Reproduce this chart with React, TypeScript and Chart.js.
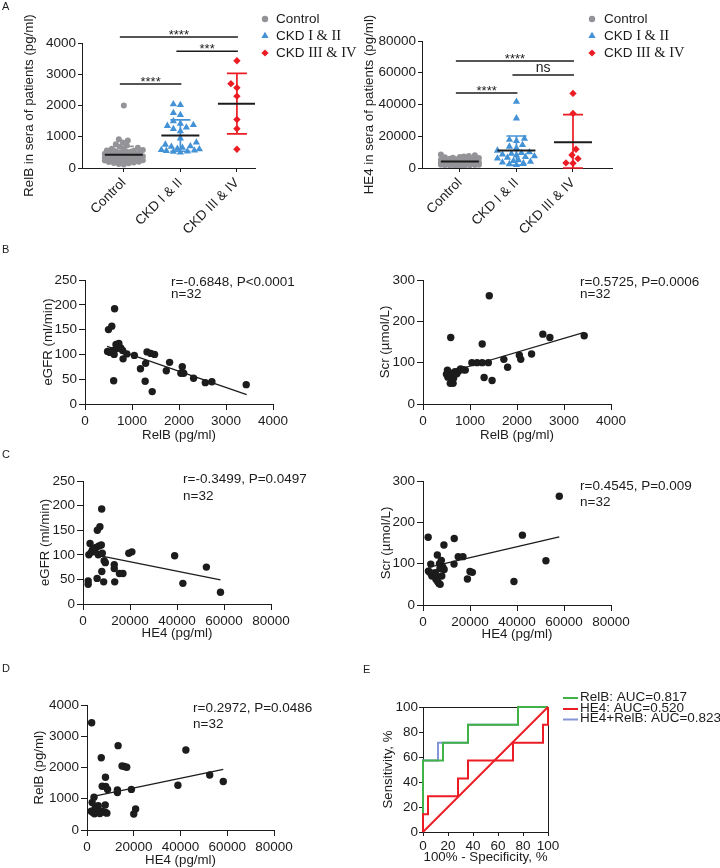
import React, { useEffect, useRef } from 'react';
import { Chart, registerables } from 'chart.js';

Chart.register(...registerables);

const SANS = '"Liberation Sans", Arial, Helvetica, sans-serif';
const SERIF = '"Liberation Serif", "Times New Roman", serif';
const INK = '#1c1c1c';
const GREY = 'rgb(148,148,152)';
const BLUE = 'rgb(68,146,214)';
const RED = 'rgb(236,28,36)';
const GREEN = 'rgb(64,178,72)';
const LAVENDER = 'rgb(132,150,214)';
const TICK_SIZE = 13.5;
const TITLE_SIZE = 13.3;

Chart.defaults.font.family = SANS;
Chart.defaults.color = INK;

// ---------------- Panel A ----------------
const groupLabels = ['Control', 'CKD I & II', 'CKD III & IV'];

const relbControl = [2000, 920, 880, 820, 760, 720, 680, 650, 620, 600, 580, 560, 550, 540, 520, 510, 500, 490, 480, 470, 460, 450, 440, 430, 420, 410, 400, 400, 390, 380, 380, 370, 360, 360, 350, 350, 340, 340, 330, 330, 320, 320, 310, 310, 300, 300, 300, 290, 290, 280, 280, 270, 260, 250, 240, 230, 220, 210, 200, 190, 180, 160, 150, 130, 110];
const relbCkd12 = [2040, 2020, 1760, 1700, 1500, 1420, 1380, 1350, 1300, 1250, 1180, 950, 820, 750, 700, 680, 650, 620, 600, 580, 560, 550, 530, 520, 500];
const relbCkd34 = [3430, 2700, 2570, 2300, 1550, 1260, 600];

const he4Control = [8500, 8000, 7600, 7200, 7000, 6800, 6500, 6300, 6000, 5800, 5600, 5500, 5300, 5200, 5000, 4900, 4800, 4700, 4600, 4500, 4400, 4300, 4200, 4100, 4000, 4000, 3900, 3800, 3700, 3600, 3500, 3500, 3400, 3300, 3200, 3100, 3000, 3000, 2900, 2800, 2700, 2600, 2500, 2400, 2300, 2200, 2100, 2000, 1900, 1800, 1700, 1600, 1500, 1400, 1300];
const he4Ckd12 = [41800, 31300, 18500, 17800, 17000, 14500, 13500, 12500, 11000, 10000, 9500, 9000, 8500, 8000, 7500, 7000, 6500, 6000, 5000, 4500, 4000, 3500, 3000, 2500, 2000];
const he4Ckd34 = [47000, 34400, 11800, 8200, 5900, 3200, 3000];

const relbSigFrom = [1, 2, 1];
const relbSigTo = [3, 3, 2];
const relbSigValue = [4190, 3740, 2690];
const relbSigText = ['****', '***', '****'];

const he4SigFrom = [1, 2, 1];
const he4SigTo = [3, 3, 2];
const he4SigValue = [67400, 58600, 47200];
const he4SigText = ['****', 'ns', '****'];

// ---------------- Panel B ----------------
const bRelbForEgfr = [480, 530, 600, 620, 660, 680, 720, 760, 800, 810, 890, 610, 1050, 1180, 1280, 1290, 1320, 1400, 1430, 1480, 1730, 1800, 2040, 2070, 2100, 2310, 2560, 2700, 3430, 500, 570, 630];
const bEgfr = [106, 104, 108, 100, 120, 112, 122, 113, 108, 91, 101, 47, 98, 71, 46, 82, 105, 102, 25, 100, 67, 84, 62, 75, 62, 52, 43, 45, 39, 150, 157, 192];
const bFitEgfrX = [470, 3440];
const bFitEgfrY = [116, 19];

const bRelbForScr = [1410, 590, 2550, 2700, 3430, 1260, 2310, 2050, 2080, 1720, 1800, 1040, 1150, 1260, 1390, 1300, 1470, 500, 520, 530, 560, 580, 600, 610, 640, 650, 680, 720, 760, 800, 860, 900];
const bScr = [262, 161, 169, 161, 165, 145, 121, 118, 108, 108, 89, 100, 100, 100, 100, 64, 57, 72, 82, 65, 76, 50, 68, 55, 50, 62, 78, 73, 80, 85, 83, 82];
const bFitScrX = [500, 3430];
const bFitScrY = [75, 173];

// ---------------- Panel C ----------------
const cHe4ForEgfr = [7950, 7200, 6100, 3000, 4000, 5500, 6800, 7800, 2500, 3500, 5000, 6500, 8200, 9000, 9500, 13300, 13300, 15500, 17000, 8000, 6000, 8800, 13500, 2200, 2200, 19500, 20800, 39000, 42500, 52500, 58500, 4500];
const cEgfr = [193, 157, 150, 123, 110, 115, 118, 120, 100, 105, 108, 100, 103, 88, 84, 80, 72, 62, 62, 66, 52, 45, 45, 47, 40, 103, 106, 98, 42, 75, 24, 112];
const cFitEgfrX = [2200, 58500];
const cFitEgfrY = [103, 49];

const cHe4ForScr = [58000, 2200, 13300, 42300, 8900, 6100, 15000, 17000, 3300, 13200, 7000, 7800, 8400, 7200, 20000, 21000, 18900, 38700, 52300, 2300, 3500, 4500, 3800, 5500, 6200, 6800, 7300, 6000, 8000, 5200, 9000, 2800];
const cScr = [263, 164, 161, 169, 145, 121, 117, 117, 99, 99, 100, 108, 92, 88, 81, 79, 63, 57, 107, 82, 75, 73, 70, 62, 57, 52, 50, 68, 70, 78, 86, 80];
const cFitScrX = [2200, 58000];
const cFitScrY = [91, 165];

// ---------------- Panel D ----------------
const dHe4 = [2000, 13300, 42300, 6100, 15000, 16000, 17000, 7900, 52500, 58300, 38900, 6500, 8000, 8800, 13000, 13000, 19000, 3000, 2200, 20000, 20800, 1800, 2500, 3200, 4000, 4800, 5500, 6500, 7800, 7900, 3500, 8500];
const dRelb = [3430, 2700, 2560, 2310, 2050, 2030, 2010, 1690, 1760, 1550, 1430, 1400, 1390, 1300, 1280, 1200, 1300, 1050, 880, 510, 670, 600, 560, 520, 600, 780, 530, 600, 800, 560, 700, 540];
const dFitX = [2200, 58300];
const dFitY = [1065, 1940];

// ---------------- Panel E (ROC) ----------------
const rocRelbX = [0, 0, 16, 16, 36, 36, 76, 76, 100];
const rocRelbY = [0, 57.14, 57.14, 71.43, 71.43, 85.71, 85.71, 100, 100];
const rocHe4X = [0, 0, 4, 4, 28, 28, 36, 36, 72, 72, 96, 96, 100, 100];
const rocHe4Y = [0, 14.29, 14.29, 28.57, 28.57, 42.86, 42.86, 57.14, 57.14, 71.43, 71.43, 85.71, 85.71, 100];
const rocComboX = [0, 0, 12, 12, 36, 36, 76, 76, 100];
const rocComboY = [0, 57.14, 57.14, 71.43, 71.43, 85.71, 85.71, 100, 100];
const rocDiagX = [0, 100];
const rocDiagY = [0, 100];
const rocLegend = ['RelB: AUC=0.817', 'HE4: AUC=0.520', 'HE4+RelB: AUC=0.823'];

// ---------------- helpers ----------------
type Rect = { l: number; t: number; w: number; h: number };
type Area = { x0: number; y0: number; x1: number; y1: number };

function frame(rect: Rect, area: Area) {
  return {
    padding: { left: 0, top: area.y0 - rect.t, right: rect.l + rect.w - area.x1, bottom: 0 },
    yWidth: area.x0 - rect.l,
    xHeight: rect.t + rect.h - area.y1,
  };
}

function mean(v: number[]) {
  return v.reduce((a, b) => a + b, 0) / v.length;
}
function sd(v: number[]) {
  const m = mean(v);
  return Math.sqrt(v.reduce((a, b) => a + (b - m) * (b - m), 0) / (v.length - 1));
}

// deterministic beeswarm: returns horizontal pixel offsets
function swarm(values: number[], pxPerUnit: number, minDist: number, maxHalf: number): number[] {
  const order = values.map((_, i) => i).sort((a, b) => values[a] - values[b]);
  const placed: { x: number; y: number }[] = [];
  const out = values.map(() => 0);
  for (const i of order) {
    const y = values[i] * pxPerUnit;
    let best = 0;
    let bestGap = -1;
    for (let k = 0; k <= maxHalf * 2; k++) {
      const dx = k === 0 ? 0 : (k % 2 ? -1 : 1) * Math.ceil(k / 2);
      let gap = Infinity;
      for (const p of placed) {
        const d = Math.hypot(p.x - dx, p.y - y);
        if (d < gap) gap = d;
      }
      if (gap >= minDist) {
        best = dx;
        bestGap = gap;
        break;
      }
      if (gap > bestGap + 0.5) {
        best = dx;
        bestGap = gap;
      }
    }
    placed.push({ x: best, y });
    out[i] = best;
  }
  return out;
}

function axisOpts(o: {
  position: 'left' | 'bottom';
  min: number;
  max: number;
  step?: number;
  size: number;
  tickLen: number;
  tickPad: number;
  title?: string;
  titleOffset?: number;
  labels?: string[];
  rotation?: number;
}) {
  const left = o.position === 'left';
  const ax: any = {
    type: 'linear',
    position: o.position,
    min: o.min,
    max: o.max,
    ticks: {
      stepSize: o.step,
      font: { family: SANS, size: TICK_SIZE },
      color: INK,
      padding: o.tickPad,
      autoSkip: false,
      maxRotation: o.rotation ?? 0,
      minRotation: o.rotation ?? 0,
      callback: (v: number) => (o.labels ? o.labels[Math.round(v) - 1] ?? '' : String(v)),
    },
    grid: { display: true, drawOnChartArea: false, drawTicks: true, tickLength: o.tickLen, color: INK, lineWidth: 1 },
    border: { display: true, color: INK, width: 1 },
    title: o.title
      ? {
          display: true,
          text: o.title,
          color: INK,
          font: { family: SANS, size: TITLE_SIZE },
          padding: left ? { top: o.titleOffset, bottom: 0 } : { top: 0, bottom: o.titleOffset },
        }
      : { display: false },
    afterFit: (s: any) => {
      if (left) s.width = o.size;
      else s.height = o.size;
    },
  };
  if (o.labels) {
    const labs = o.labels;
    ax.afterBuildTicks = (s: any) => {
      s.ticks = labs.map((_, i) => ({ value: i + 1 }));
    };
  }
  return ax;
}

function drawMarker(ctx: CanvasRenderingContext2D, style: string, x: number, y: number, r: number, color: string) {
  ctx.save();
  ctx.fillStyle = color;
  ctx.beginPath();
  if (style === 'circle') {
    ctx.arc(x, y, r, 0, Math.PI * 2);
  } else if (style === 'triangle') {
    for (let k = 0; k < 3; k++) {
      const a = (k * 2 * Math.PI) / 3;
      const px = x + Math.sin(a) * r;
      const py = y - Math.cos(a) * r;
      if (k === 0) ctx.moveTo(px, py);
      else ctx.lineTo(px, py);
    }
    ctx.closePath();
  } else {
    ctx.moveTo(x, y - r);
    ctx.lineTo(x + r, y);
    ctx.lineTo(x, y + r);
    ctx.lineTo(x - r, y);
    ctx.closePath();
  }
  ctx.fill();
  ctx.restore();
}

function notesPlugin(lines: string[], x: number, ys: number[]) {
  return {
    id: 'notes',
    afterDraw(chart: any) {
      const ctx = chart.ctx as CanvasRenderingContext2D;
      ctx.save();
      ctx.font = `13.5px ${SANS}`;
      ctx.fillStyle = INK;
      ctx.textAlign = 'left';
      ctx.textBaseline = 'middle';
      lines.forEach((s, i) => ctx.fillText(s, x, ys[i]));
      ctx.restore();
    },
  };
}

const groupStyles = ['circle', 'triangle', 'rectRot'];
const groupColors = [GREY, BLUE, RED];
const groupRadii = [3, 4.2, 3.7];
const groupGaps = [4.6, 6.6, 6.6];

function groupChart(p: {
  rect: Rect;
  area: Area;
  xMin: number;
  xMax: number;
  yMax: number;
  yStep: number;
  groups: number[][];
  yTitle: string;
  yTitleX: number;
  sigFrom: number[];
  sigTo: number[];
  sigValue: number[];
  sigText: string[];
  legendMarkerX: number;
  legendTextX: number;
  legendY: number[];
}) {
  const f = frame(p.rect, p.area);
  const pxX = (p.area.x1 - p.area.x0) / (p.xMax - p.xMin);
  const pxY = (p.area.y1 - p.area.y0) / p.yMax;
  const datasets: any[] = [];
  p.groups.forEach((vals, g) => {
    const c = g + 1;
    const off = swarm(vals, pxY, groupGaps[g], 19);
    datasets.push({
      type: 'scatter',
      data: vals.map((v, i) => ({ x: c + off[i] / pxX, y: v })),
      pointStyle: groupStyles[g],
      pointRadius: groupRadii[g],
      backgroundColor: groupColors[g],
      borderColor: groupColors[g],
      borderWidth: 0,
      order: 0,
    });
    const m = mean(vals);
    const s = sd(vals);
    const hi = m + s;
    const lo = Math.max(m - s, 0);
    const cw = 10 / pxX;
    const mw = 19 / pxX;
    datasets.push({
      type: 'line',
      data: [
        { x: c - cw, y: hi },
        { x: c + cw, y: hi },
        { x: c, y: null },
        { x: c, y: hi },
        { x: c, y: lo },
        { x: c, y: null },
        { x: c - cw, y: lo },
        { x: c + cw, y: lo },
      ],
      borderColor: groupColors[g],
      borderWidth: 1.7,
      pointRadius: 0,
      order: -1,
      clip: 6,
    });
    datasets.push({
      type: 'line',
      data: [
        { x: c - mw, y: m },
        { x: c + mw, y: m },
      ],
      borderColor: INK,
      borderWidth: 2,
      pointRadius: 0,
      order: -2,
    });
  });

  const deco = {
    id: 'deco',
    afterDraw(chart: any) {
      const ctx = chart.ctx as CanvasRenderingContext2D;
      const xs = chart.scales.x;
      const ys = chart.scales.y;
      ctx.save();
      ctx.strokeStyle = INK;
      ctx.fillStyle = INK;
      ctx.lineWidth = 1.5;
      p.sigValue.forEach((val, i) => {
        const y = ys.getPixelForValue(val);
        const xa = xs.getPixelForValue(p.sigFrom[i]) - 4;
        const xb = xs.getPixelForValue(p.sigTo[i]) + 1;
        ctx.beginPath();
        ctx.moveTo(xa, y);
        ctx.lineTo(xb, y);
        ctx.stroke();
        const txt = p.sigText[i];
        ctx.textAlign = 'center';
        ctx.textBaseline = 'alphabetic';
        if (txt === 'ns') {
          ctx.font = `14px ${SANS}`;
          ctx.fillText(txt, (xa + xb) / 2, y - 2.5);
        } else {
          ctx.font = `13px ${SANS}`;
          ctx.fillText(txt, (xa + xb) / 2, y + 2);
        }
      });
      // legend
      groupLabels.forEach((lab, g) => {
        const y = p.legendY[g];
        drawMarker(ctx, groupStyles[g], p.legendMarkerX, y, g === 0 ? 3.2 : g === 1 ? 4.2 : 3.6, groupColors[g]);
        const parts = lab.split(' ');
        const head = parts[0];
        const tail = parts.slice(1).join(' ');
        ctx.textAlign = 'left';
        ctx.textBaseline = 'middle';
        ctx.fillStyle = INK;
        ctx.font = `13.5px ${SANS}`;
        ctx.fillText(head, p.legendTextX, y);
        if (tail) {
          const w = ctx.measureText(head).width;
          ctx.font = `14.5px ${SERIF}`;
          ctx.fillText(' ' + tail, p.legendTextX + w, y + 0.5);
        }
      });
      ctx.restore();
    },
  };

  return {
    type: 'scatter',
    data: { datasets },
    options: {
      responsive: false,
      animation: false,
      events: [],
      layout: { padding: f.padding },
      plugins: { legend: { display: false }, tooltip: { enabled: false } },
      scales: {
        x: axisOpts({ position: 'bottom', min: p.xMin, max: p.xMax, size: f.xHeight, tickLen: 4, tickPad: 3, labels: groupLabels, rotation: 45 }),
        y: axisOpts({ position: 'left', min: 0, max: p.yMax, step: p.yStep, size: f.yWidth, tickLen: 4, tickPad: 2, title: p.yTitle, titleOffset: p.yTitleX - p.rect.l - 8 }),
      },
    },
    plugins: [deco],
  };
}

function scatterChart(p: {
  rect: Rect;
  area: Area;
  xs: number[];
  ys: number[];
  fitX: number[];
  fitY: number[];
  xMax: number;
  xStep: number;
  yMax: number;
  yStep: number;
  xTitle: string;
  yTitle: string;
  xTitleY: number;
  yTitleX: number;
  notes: string[];
  noteX: number;
  noteY: number[];
}) {
  const f = frame(p.rect, p.area);
  return {
    type: 'scatter',
    data: {
      datasets: [
        {
          type: 'line',
          data: p.fitX.map((x, i) => ({ x, y: p.fitY[i] })),
          borderColor: INK,
          borderWidth: 1.3,
          pointRadius: 0,
          order: 1,
        },
        {
          data: p.xs.map((x, i) => ({ x, y: p.ys[i] })),
          backgroundColor: INK,
          borderColor: INK,
          borderWidth: 0,
          pointRadius: 3.7,
          order: 0,
          clip: 6,
        },
      ],
    },
    options: {
      responsive: false,
      animation: false,
      events: [],
      layout: { padding: f.padding },
      plugins: { legend: { display: false }, tooltip: { enabled: false } },
      scales: {
        x: axisOpts({ position: 'bottom', min: 0, max: p.xMax, step: p.xStep, size: f.xHeight, tickLen: 6, tickPad: 3, title: p.xTitle, titleOffset: p.rect.h - (p.xTitleY - p.rect.t) - 8 }),
        y: axisOpts({ position: 'left', min: 0, max: p.yMax, step: p.yStep, size: f.yWidth, tickLen: 6, tickPad: 2, title: p.yTitle, titleOffset: p.yTitleX - p.rect.l - 8 }),
      },
    },
    plugins: [notesPlugin(p.notes, p.noteX - p.rect.l, p.noteY.map((y) => y - p.rect.t))],
  };
}

function rocChart(rect: Rect, area: Area) {
  const f = frame(rect, area);
  const line = (xs: number[], ys: number[], color: string, order: number) => ({
    type: 'line',
    data: xs.map((x, i) => ({ x, y: ys[i] })),
    borderColor: color,
    borderWidth: 2,
    pointRadius: 0,
    order,
    clip: 4,
  });
  const legendColors = [GREEN, RED, LAVENDER];
  const legend = {
    id: 'rocLegend',
    afterDraw(chart: any) {
      const ctx = chart.ctx as CanvasRenderingContext2D;
      ctx.save();
      ctx.font = `13.5px ${SANS}`;
      ctx.textAlign = 'left';
      ctx.textBaseline = 'middle';
      const ys = [57, 68, 78.5];
      rocLegend.forEach((t, i) => {
        ctx.strokeStyle = legendColors[i];
        ctx.lineWidth = 2;
        ctx.beginPath();
        ctx.moveTo(203, ys[i] + 1);
        ctx.lineTo(218, ys[i] + 1);
        ctx.stroke();
        ctx.fillStyle = INK;
        ctx.fillText(t, 220, ys[i]);
      });
      ctx.restore();
    },
  };
  return {
    type: 'scatter',
    data: {
      datasets: [
        line(rocComboX, rocComboY, LAVENDER, 3),
        line(rocRelbX, rocRelbY, GREEN, 2),
        line(rocHe4X, rocHe4Y, RED, 1),
        line(rocDiagX, rocDiagY, RED, 0),
      ],
    },
    options: {
      responsive: false,
      animation: false,
      events: [],
      layout: { padding: f.padding },
      plugins: { legend: { display: false }, tooltip: { enabled: false } },
      scales: {
        x: axisOpts({ position: 'bottom', min: 0, max: 100, step: 20, size: f.xHeight, tickLen: 4, tickPad: 2, title: '100% - Specificity, %', titleOffset: rect.h - (857 - rect.t) - 8 }),
        y: axisOpts({ position: 'left', min: 0, max: 100, step: 20, size: f.yWidth, tickLen: 4, tickPad: 1, title: 'Sensitivity, %', titleOffset: 388 - rect.l - 8 }),
        x2: {
          type: 'linear',
          position: 'top',
          min: 0,
          max: 100,
          ticks: { display: false },
          grid: { display: false },
          border: { display: true, color: INK, width: 1 },
          afterFit: (s: any) => {
            s.height = 0;
          },
        },
        y2: {
          type: 'linear',
          position: 'right',
          min: 0,
          max: 100,
          ticks: { display: false },
          grid: { display: false },
          border: { display: true, color: INK, width: 1 },
          afterFit: (s: any) => {
            s.width = 0;
          },
        },
      },
    },
    plugins: [legend],
  };
}

function ChartCanvas({ rect, make }: { rect: Rect; make: () => any }) {
  const ref = useRef<HTMLCanvasElement>(null);
  useEffect(() => {
    const chart = new Chart(ref.current as HTMLCanvasElement, make());
    return () => chart.destroy();
  }, []);
  return (
    <canvas
      ref={ref}
      width={rect.w}
      height={rect.h}
      style={{ position: 'absolute', left: rect.l, top: rect.t, width: rect.w, height: rect.h }}
    />
  );
}

const rA1: Rect = { l: 0, t: 0, w: 360, h: 240 };
const rA2: Rect = { l: 360, t: 0, w: 360, h: 240 };
const rB1: Rect = { l: 0, t: 240, w: 360, h: 210 };
const rB2: Rect = { l: 360, t: 240, w: 360, h: 210 };
const rC1: Rect = { l: 0, t: 440, w: 360, h: 210 };
const rC2: Rect = { l: 360, t: 440, w: 360, h: 210 };
const rD: Rect = { l: 0, t: 640, w: 360, h: 228 };
const rE: Rect = { l: 360, t: 640, w: 360, h: 228 };

const letterStyle = (left: number, top: number): React.CSSProperties => ({
  position: 'absolute',
  left,
  top,
  fontFamily: SANS,
  fontSize: 11,
  lineHeight: '13px',
  color: INK,
});

export default function App() {
  return (
    <div style={{ position: 'absolute', left: 0, top: 0, width: 720, height: 868, background: '#fff', overflow: 'hidden' }}>
      <ChartCanvas
        rect={rA1}
        make={() =>
          groupChart({
            rect: rA1,
            area: { x0: 82, y0: 43, x1: 255, y1: 168 },
            xMin: 0.26,
            xMax: 3.32,
            yMax: 4000,
            yStep: 1000,
            groups: [relbControl, relbCkd12, relbCkd34],
            yTitle: 'RelB in sera of patients (pg/ml)',
            yTitleX: 29,
            sigFrom: relbSigFrom,
            sigTo: relbSigTo,
            sigValue: relbSigValue,
            sigText: relbSigText,
            legendMarkerX: 265,
            legendTextX: 276,
            legendY: [19, 36, 53],
          })
        }
      />
      <ChartCanvas
        rect={rA2}
        make={() =>
          groupChart({
            rect: rA2,
            area: { x0: 422, y0: 41, x1: 612, y1: 168 },
            xMin: 0.33,
            xMax: 3.69,
            yMax: 80000,
            yStep: 20000,
            groups: [he4Control, he4Ckd12, he4Ckd34],
            yTitle: 'HE4 in sera of patients (pg/ml)',
            yTitleX: 369.5,
            sigFrom: he4SigFrom,
            sigTo: he4SigTo,
            sigValue: he4SigValue,
            sigText: he4SigText,
            legendMarkerX: 232,
            legendTextX: 244,
            legendY: [19, 36, 53],
          })
        }
      />
      <ChartCanvas
        rect={rB1}
        make={() =>
          scatterChart({
            rect: rB1,
            area: { x0: 85, y0: 280, x1: 273, y1: 404 },
            xs: bRelbForEgfr,
            ys: bEgfr,
            fitX: bFitEgfrX,
            fitY: bFitEgfrY,
            xMax: 4000,
            xStep: 1000,
            yMax: 250,
            yStep: 50,
            xTitle: 'RelB (pg/ml)',
            yTitle: 'eGFR (ml/min)',
            xTitleY: 435,
            yTitleX: 48,
            notes: ['r=-0.6848, P<0.0001', 'n=32'],
            noteX: 171,
            noteY: [282, 294],
          })
        }
      />
      <ChartCanvas
        rect={rB2}
        make={() =>
          scatterChart({
            rect: rB2,
            area: { x0: 423, y0: 280, x1: 611, y1: 404 },
            xs: bRelbForScr,
            ys: bScr,
            fitX: bFitScrX,
            fitY: bFitScrY,
            xMax: 4000,
            xStep: 1000,
            yMax: 300,
            yStep: 100,
            xTitle: 'RelB (pg/ml)',
            yTitle: 'Scr (µmol/L)',
            xTitleY: 435,
            yTitleX: 385,
            notes: ['r=0.5725, P=0.0006', 'n=32'],
            noteX: 580,
            noteY: [282, 294],
          })
        }
      />
      <ChartCanvas
        rect={rC1}
        make={() =>
          scatterChart({
            rect: rC1,
            area: { x0: 83, y0: 481, x1: 271, y1: 604 },
            xs: cHe4ForEgfr,
            ys: cEgfr,
            fitX: cFitEgfrX,
            fitY: cFitEgfrY,
            xMax: 80000,
            xStep: 20000,
            yMax: 250,
            yStep: 50,
            xTitle: 'HE4 (pg/ml)',
            yTitle: 'eGFR (ml/min)',
            xTitleY: 633,
            yTitleX: 45,
            notes: ['r=-0.3499, P=0.0497', 'n=32'],
            noteX: 183,
            noteY: [479, 496],
          })
        }
      />
      <ChartCanvas
        rect={rC2}
        make={() =>
          scatterChart({
            rect: rC2,
            area: { x0: 423, y0: 481, x1: 611, y1: 605 },
            xs: cHe4ForScr,
            ys: cScr,
            fitX: cFitScrX,
            fitY: cFitScrY,
            xMax: 80000,
            xStep: 20000,
            yMax: 300,
            yStep: 100,
            xTitle: 'HE4 (pg/ml)',
            yTitle: 'Scr (µmol/L)',
            xTitleY: 634,
            yTitleX: 386,
            notes: ['r=0.4545, P=0.009', 'n=32'],
            noteX: 580,
            noteY: [486, 502],
          })
        }
      />
      <ChartCanvas
        rect={rD}
        make={() =>
          scatterChart({
            rect: rD,
            area: { x0: 87, y0: 705, x1: 274, y1: 830 },
            xs: dHe4,
            ys: dRelb,
            fitX: dFitX,
            fitY: dFitY,
            xMax: 80000,
            xStep: 20000,
            yMax: 4000,
            yStep: 1000,
            xTitle: 'HE4 (pg/ml)',
            yTitle: 'RelB (pg/ml)',
            xTitleY: 860,
            yTitleX: 39.5,
            notes: ['r=0.2972, P=0.0486', 'n=32'],
            noteX: 193,
            noteY: [708, 724],
          })
        }
      />
      <ChartCanvas rect={rE} make={() => rocChart(rE, { x0: 423, y0: 707, x1: 548, y1: 832 })} />
      <div style={letterStyle(2, 0)}>A</div>
      <div style={letterStyle(2, 243)}>B</div>
      <div style={letterStyle(2, 448)}>C</div>
      <div style={letterStyle(2, 662)}>D</div>
      <div style={letterStyle(363, 663)}>E</div>
    </div>
  );
}
